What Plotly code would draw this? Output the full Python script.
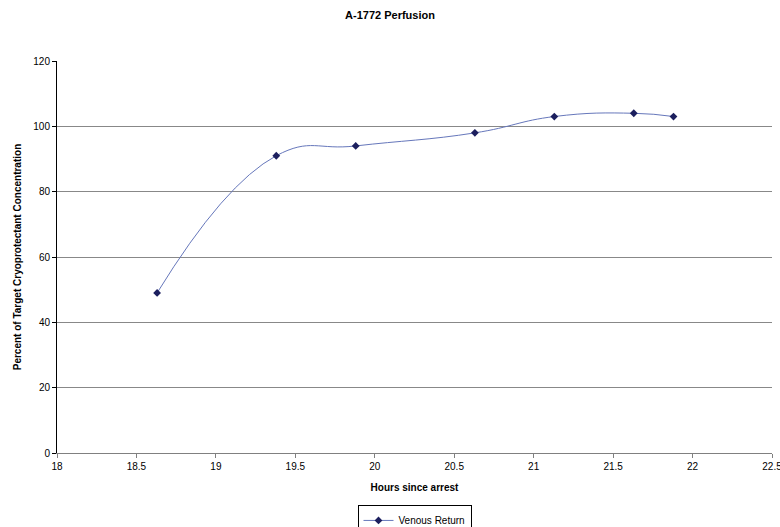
import plotly.graph_objects as go

hours = [18.63, 19.38, 19.88, 20.63, 21.13, 21.63, 21.88]
venous_return = [49, 91, 94, 98, 103, 104, 103]
x_ticks = [18, 18.5, 19, 19.5, 20, 20.5, 21, 21.5, 22, 22.5]
x_tick_labels = ["18", "18.5", "19", "19.5", "20", "20.5", "21", "21.5", "22", "22.5"]
y_ticks = [0, 20, 40, 60, 80, 100, 120]

FONT = "Liberation Sans, Arial, sans-serif"

fig = go.Figure()
fig.add_trace(go.Scatter(
    x=hours, y=venous_return, name="Venous Return",
    mode="lines+markers",
    line=dict(color="#6677BB", width=1, shape="spline", smoothing=1.3),
    marker=dict(symbol="diamond", size=6, color="#1C1F5E"),
))

fig.update_layout(
    width=780, height=527,
    paper_bgcolor="white", plot_bgcolor="white",
    margin=dict(l=57, r=8, t=61, b=74, autoexpand=False),
    title=dict(text="<b>A-1772 Perfusion</b>", x=0.5, xanchor="center",
               y=1 - 15 / 527, yanchor="middle",
               font=dict(family=FONT, size=11, color="black")),
    font=dict(family=FONT, size=10, color="black"),
    xaxis=dict(range=[18, 22.5], tickvals=x_ticks, ticktext=x_tick_labels,
               automargin=False, ticklabeloverflow="allow",
               showgrid=False, zeroline=False, showline=True, linecolor="#808080",
               linewidth=1, ticks="outside", ticklen=4, tickcolor="#808080",
               tickfont=dict(family=FONT, size=10, color="black"),
               title=dict(text="<b>Hours since arrest</b>", standoff=12,
                          font=dict(family=FONT, size=10, color="black"))),
    yaxis=dict(range=[0, 120], tickvals=y_ticks, automargin=False,
               showgrid=True, gridcolor="#888888", gridwidth=1, zeroline=False,
               showline=True, linecolor="black", linewidth=1,
               ticks="outside", ticklen=4, tickcolor="black",
               tickfont=dict(family=FONT, size=10, color="black"),
               title=dict(text="<b>Percent of Target Cryoprotectant Concentration</b>",
                          standoff=9,
                          font=dict(family=FONT, size=10, color="black"))),
    showlegend=True,
    legend=dict(x=0.5, xanchor="center", y=-0.172, yanchor="middle",
                orientation="h", bordercolor="black", borderwidth=1,
                itemwidth=30,
                bgcolor="white", font=dict(family=FONT, size=10, color="black")),
)

fig.write_html("out.html", config={"displayModeBar": False},
               post_script="document.body.style.margin='0';document.body.style.overflow='hidden';")
